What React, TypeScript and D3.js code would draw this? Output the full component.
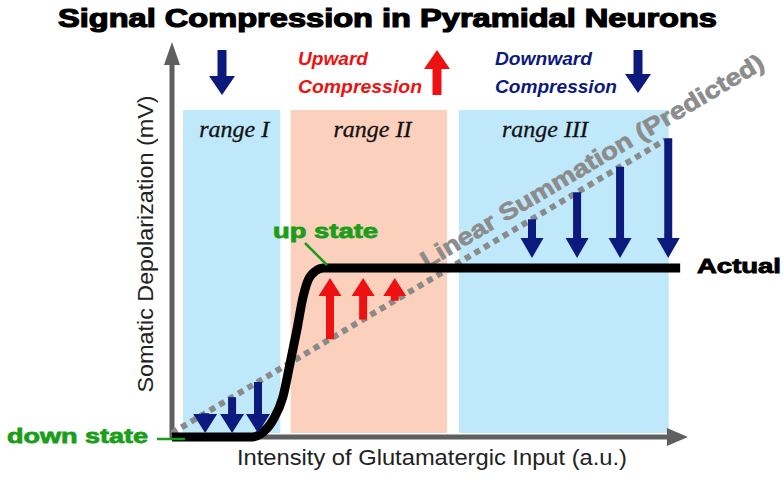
import React from 'react';
import * as d3 from 'd3';

const W = 784;
const H = 480;

// intensity of input (a.u.) -> somatic depolarization (a.u.)
const actualCurve: [number, number][] = [
  [0, 0], [10, 0], [15.6, 0], [17, 0.9], [19.5, 5.5], [21.4, 12.9], [22.8, 23.9],
  [24.1, 34.6], [25.3, 45.3], [26.6, 51.8], [29.2, 54.7], [35, 54.7], [98.1, 54.7],
];
const linearSum: [number, number][] = [[0, 1.3], [95.2, 96.1]];
const plateau = 54.7;

const rangeNames = ['range I', 'range II', 'range III'];
const rangeStart = [2.1, 22.9, 55.4];
const rangeEnd = [20.9, 53.1, 95.9];
const rangeLabelAt = [12, 38.7, 72];
const rangeFill = ['#bfe9fb', '#fbd0bc', '#bfe9fb'];
const bandTop = 105.8;
const bandBottom = 1.3;

const downArrowsI = [6.4, 11.6, 16.6];
const upArrowsII = [30.5, 36.9, 43.0];
const downArrowsIII = [69.5, 78.2, 86.5, 95.8];

const xAxisMax = 99.6;
const yAxisMax = 127.8;

const NAVY = '#0c1a7e';
const RED = '#ee1111';
const GREEN = '#1a9e1a';
const AXIS = '#5f5f5f';

function arrowPath(x: number, yFrom: number, yTo: number, shaft = 8, headW = 24, headL = 19) {
  const dir = yTo > yFrom ? 1 : -1;
  const len = Math.abs(yTo - yFrom);
  const hl = Math.min(headL, len);
  const yb = yTo - dir * hl;
  return `M${x - shaft / 2},${yFrom}L${x + shaft / 2},${yFrom}L${x + shaft / 2},${yb}L${x + headW / 2},${yb}L${x},${yTo}L${x - headW / 2},${yb}L${x - shaft / 2},${yb}Z`;
}

export default function App() {
  const x = d3.scaleLinear().domain([0, 100]).range([172, 690]);
  const y = d3.scaleLinear().domain([0, 100]).range([437, 128]);
  const lin = d3.scaleLinear().domain([linearSum[0][0], linearSum[1][0]]).range([linearSum[0][1], linearSum[1][1]]);

  const curve = d3.line<[number, number]>().x(d => x(d[0])).y(d => y(d[1])).curve(d3.curveMonotoneX);
  const straight = d3.line<[number, number]>().x(d => x(d[0])).y(d => y(d[1]));

  const p0 = [x(linearSum[0][0]), y(linearSum[0][1])];
  const p1 = [x(linearSum[1][0]), y(linearSum[1][1])];
  const ang = Math.atan2(p1[1] - p0[1], p1[0] - p0[0]);
  const tx0 = 50.2;
  const tp = [x(tx0) + Math.sin(ang) * 11, y(lin(tx0)) - Math.cos(ang) * 11];

  const x0 = x(0);
  const y0 = y(0);
  const bold = { fontFamily: 'Liberation Sans, Arial, sans-serif', fontWeight: 700 } as const;

  return (
    <svg width={W} height={H} style={{ position: 'absolute', left: 0, top: 0, background: '#fff' }}>
      {/* range bands */}
      {rangeNames.map((r, i) => (
        <rect key={r} x={x(rangeStart[i])} y={y(bandTop)} width={x(rangeEnd[i]) - x(rangeStart[i])}
          height={y(bandBottom) - y(bandTop)} fill={rangeFill[i]} />
      ))}
      {rangeNames.map((r, i) => (
        <text key={r + 't'} x={x(rangeLabelAt[i])} y={137} textAnchor="middle" fontFamily="Liberation Serif, Times New Roman, serif"
          fontStyle="italic" fontSize={24} fill="#111" stroke="#111" strokeWidth={0.3}>{r}</text>
      ))}

      {/* axes */}
      <line x1={x0} y1={y0 + 3} x2={x0} y2={y(yAxisMax) + 20} stroke={AXIS} strokeWidth={5} />
      <path d={`M${x0 - 8},${y(yAxisMax) + 23}L${x0},${y(yAxisMax)}L${x0 + 8},${y(yAxisMax) + 23}Z`} fill={AXIS} />
      <line x1={x0 - 2} y1={y0} x2={x(xAxisMax) - 18} y2={y0} stroke={AXIS} strokeWidth={5} />
      <path d={`M${x(xAxisMax) - 21},${y0 - 9}L${x(xAxisMax)},${y0}L${x(xAxisMax) - 21},${y0 + 9}Z`} fill={AXIS} />

      {/* linear summation */}
      <path d={straight(linearSum) || ''} fill="none" stroke="#8a8a8a" strokeWidth={6} strokeDasharray="6 5" />
      <text transform={`translate(${tp[0]},${tp[1]}) rotate(${(ang * 180) / Math.PI})`} {...bold} fontSize={24}
        fill="#8c8c8c" stroke="#8c8c8c" strokeWidth={0.7} textLength={395} lengthAdjust="spacingAndGlyphs">Linear Summation (Predicted)</text>

      {/* actual curve */}
      <path d={curve(actualCurve) || ''} fill="none" stroke="#000" strokeWidth={9} strokeLinejoin="round" />

      {/* compression arrows */}
      {downArrowsI.map(v => (
        <path key={'a' + v} d={arrowPath(x(v), y(lin(v)), y(0) - 4)} fill={NAVY} />
      ))}
      {upArrowsII.map(v => (
        <path key={'b' + v} d={arrowPath(x(v), y(lin(v)), y(plateau) + 10, 8, 23, 18)} fill={RED} />
      ))}
      {downArrowsIII.map(v => (
        <path key={'c' + v} d={arrowPath(x(v), y(lin(v)), y(plateau) - 10, 8, 23, 20)} fill={NAVY} />
      ))}

      {/* legend arrows */}
      <path d={arrowPath(222, 50, 95, 9, 26, 19)} fill={NAVY} />
      <path d={arrowPath(437, 95, 50, 9, 26, 19)} fill={RED} />
      <path d={arrowPath(638, 50, 93, 9, 26, 19)} fill={NAVY} />

      <g {...bold} fontStyle="italic" fontSize={18}>
        <text x={298} y={65} fill={RED} textLength={70} lengthAdjust="spacingAndGlyphs">Upward</text>
        <text x={298} y={93} fill={RED} textLength={124} lengthAdjust="spacingAndGlyphs">Compression</text>
        <text x={495} y={65} fill={NAVY} textLength={97} lengthAdjust="spacingAndGlyphs">Downward</text>
        <text x={495} y={93} fill={NAVY} textLength={122} lengthAdjust="spacingAndGlyphs">Compression</text>
      </g>

      {/* state labels */}
      <line x1={305} y1={243} x2={327} y2={265} stroke={GREEN} strokeWidth={2.5} />
      <text x={273} y={238} {...bold} fontSize={20} fill={GREEN} stroke={GREEN} strokeWidth={0.8}
        textLength={105} lengthAdjust="spacingAndGlyphs">up state</text>
      <line x1={157} y1={439} x2={185} y2={439} stroke={GREEN} strokeWidth={2.5} />
      <text x={7} y={443} {...bold} fontSize={20} fill={GREEN} stroke={GREEN} strokeWidth={0.8}
        textLength={141} lengthAdjust="spacingAndGlyphs">down state</text>
      <text x={697} y={273} {...bold} fontSize={21} fill="#000" stroke="#000" strokeWidth={0.9}
        textLength={84} lengthAdjust="spacingAndGlyphs">Actual</text>

      {/* title and axis labels */}
      <text x={58} y={27} {...bold} fontSize={25} fill="#000" stroke="#000" strokeWidth={1.2}
        textLength={659} lengthAdjust="spacingAndGlyphs">Signal Compression in Pyramidal Neurons</text>
      <text x={432} y={465} textAnchor="middle" fontFamily="Liberation Sans, Arial, sans-serif" fontSize={22}
        fill="#222" textLength={390} lengthAdjust="spacingAndGlyphs">Intensity of Glutamatergic Input (a.u.)</text>
      <text transform="translate(153,244) rotate(-90)" textAnchor="middle" fontFamily="Liberation Sans, Arial, sans-serif"
        fontSize={22} fill="#222" textLength={297} lengthAdjust="spacingAndGlyphs">Somatic Depolarization (mV)</text>
    </svg>
  );
}
